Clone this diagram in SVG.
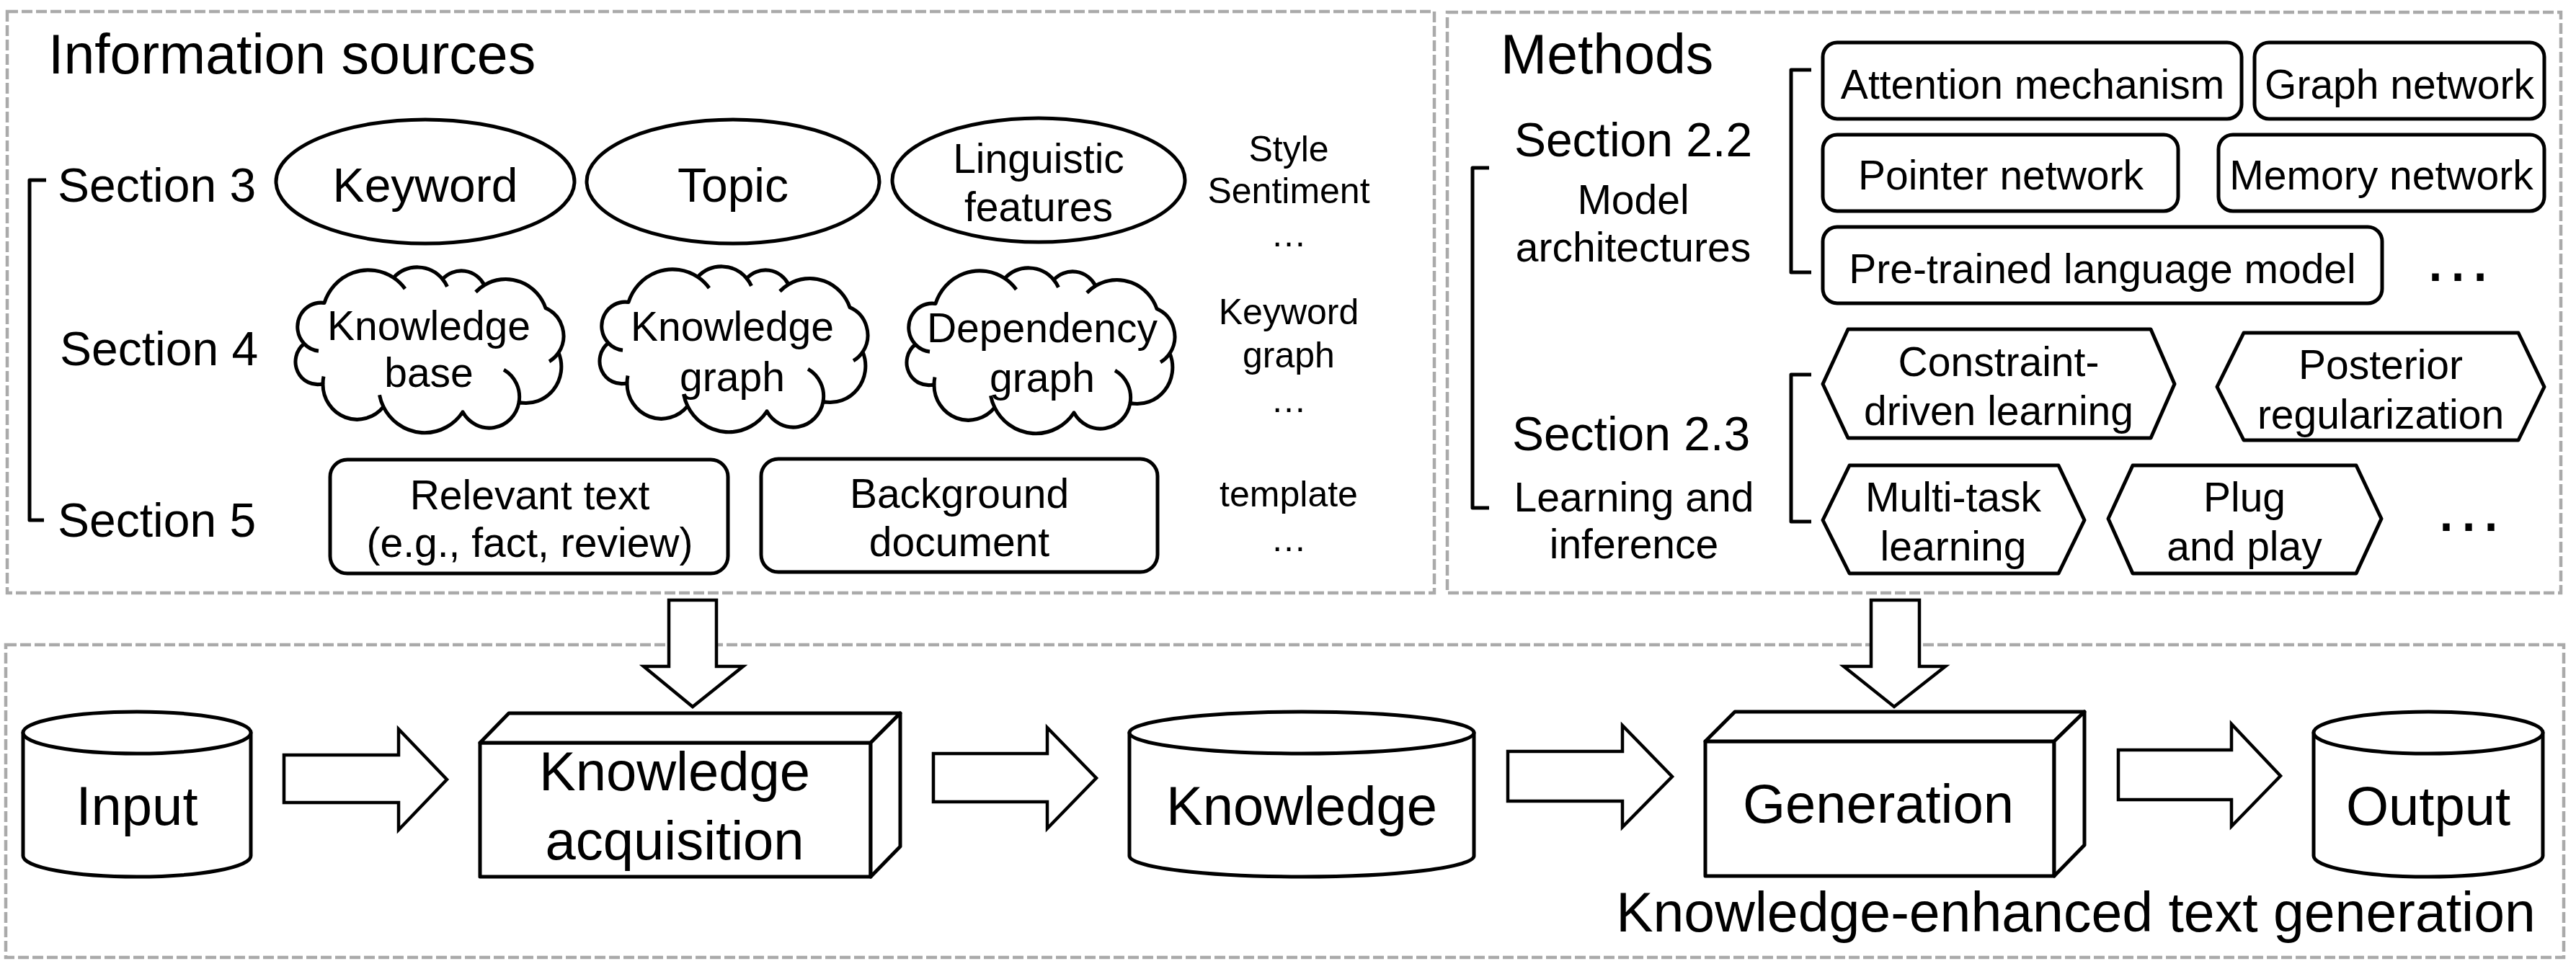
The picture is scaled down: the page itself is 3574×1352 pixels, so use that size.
<svg xmlns="http://www.w3.org/2000/svg" xmlns:xlink="http://www.w3.org/1999/xlink" width="3574" height="1352" viewBox="0 0 3574 1352">
<style>
.t{font-family:"Liberation Sans",Arial,Helvetica,sans-serif;fill:#000;text-anchor:middle}
.ts{text-anchor:start}
.f77{font-size:77px}.f76{font-size:76px}.f66{font-size:66px}.f57{font-size:57px}.f50{font-size:50px}.f98{font-size:98px}
.sh{fill:#fff;stroke:#000;stroke-width:5;stroke-linejoin:round}
.ln{fill:none;stroke:#000;stroke-width:5}
.br{fill:none;stroke:#000;stroke-width:5;stroke-linejoin:round}
.dash{fill:none;stroke:#aaaaaa;stroke-width:4.5;stroke-dasharray:15 5}
.ar{fill:#fff;stroke:#000;stroke-width:4.5;stroke-linejoin:miter}
</style>
<defs>
<g id="cloud">
<path class="sh" d="M38,157 A30.6,30.6 0 0 1 12,103 A32.6,32.6 0 0 1 40,48 A64.3,64.3 0 0 1 136,14 A46,46 0 0 1 204,16 A36,36 0 0 1 262,24 A58.9,58.9 0 0 1 347,55 A40.5,40.5 0 0 1 365,115 A49,49 0 0 1 310,182 A42,42 0 0 1 232,195 A64,64 0 0 1 122,188 A47.5,47.5 0 0 1 38,157 Z"/>
<path class="ln" d="M32,112.7 A32.6,32.6 0 0 1 12,103 M136,14 A64.3,64.3 0 0 1 152,29 M204,16 A46,46 0 0 1 210.5,26 M250,33.4 A58.9,58.9 0 0 1 262,24 M365,115 A40.5,40.5 0 0 1 352,127 M289,138 A42,42 0 0 1 310,182 M122,188 A64,64 0 0 1 116.5,172 M38,157 A47.5,47.5 0 0 1 39,147"/>
</g>
</defs>
<rect width="3574" height="1352" fill="#fff"/>

<g id="frames">
<rect class="dash" x="10" y="16" width="1980" height="807"/>
<rect class="dash" x="2008" y="17" width="1545" height="806"/>
<rect class="dash" x="8" y="895" width="3549" height="434"/>
</g>

<g id="titles">
<text class="t ts f77" x="67" y="102">Information sources</text>
<text class="t ts f77" x="2082" y="102">Methods</text>
<text class="t f77" x="2880" y="1293">Knowledge-enhanced text generation</text>
</g>

<g id="brackets">
<path class="br" d="M64,250 H41 V722 H61"/>
<path class="br" d="M2066,233 H2043 V705 H2066"/>
<path class="br" d="M2513,97 H2485 V378 H2513"/>
<path class="br" d="M2513,520 H2485 V724 H2513"/>
</g>

<g id="section-labels">
<text class="t ts f66" x="80" y="280">Section 3</text>
<text class="t ts f66" x="83" y="507">Section 4</text>
<text class="t ts f66" x="80" y="745">Section 5</text>
<text class="t f66" x="2266" y="217">Section 2.2</text>
<text class="t f57" x="2266" y="297">Model</text>
<text class="t f57" x="2266" y="363">architectures</text>
<text class="t f66" x="2263" y="625">Section 2.3</text>
<text class="t f57" x="2267" y="710">Learning and</text>
<text class="t f57" x="2267" y="775">inference</text>
</g>

<g id="node-keyword">
<ellipse class="sh" cx="590" cy="252" rx="207" ry="86"/>
<text class="t f66" x="590" y="280">Keyword</text>
</g>
<g id="node-topic">
<ellipse class="sh" cx="1017" cy="252" rx="203" ry="86"/>
<text class="t f66" x="1017" y="280">Topic</text>
</g>
<g id="node-linguistic">
<ellipse class="sh" cx="1441" cy="250" rx="203" ry="86"/>
<text class="t f57" x="1441" y="240">Linguistic</text>
<text class="t f57" x="1441" y="307">features</text>
</g>
<g id="note-style">
<text class="t f50" x="1788" y="224">Style</text>
<text class="t f50" x="1788" y="282">Sentiment</text>
<text class="t f50" x="1788" y="342">…</text>
</g>

<g id="node-knowledge-base">
<use xlink:href="#cloud" href="#cloud" transform="translate(410,371) scale(1,1.03)"/>
<text class="t f57" x="595" y="472">Knowledge</text>
<text class="t f57" x="595" y="537">base</text>
</g>
<g id="node-knowledge-graph">
<use xlink:href="#cloud" href="#cloud" transform="translate(832,370) scale(1,1.03)"/>
<text class="t f57" x="1016" y="473">Knowledge</text>
<text class="t f57" x="1016" y="543">graph</text>
</g>
<g id="node-dependency-graph">
<use xlink:href="#cloud" href="#cloud" transform="translate(1258,372) scale(1,1.03)"/>
<text class="t f57" x="1446" y="475">Dependency</text>
<text class="t f57" x="1446" y="544">graph</text>
</g>
<g id="note-keyword-graph">
<text class="t f50" x="1788" y="450">Keyword</text>
<text class="t f50" x="1788" y="510">graph</text>
<text class="t f50" x="1788" y="572">…</text>
</g>

<g id="node-relevant-text">
<rect class="sh" x="458" y="638" width="552" height="158" rx="24"/>
<text class="t f57" x="735" y="707">Relevant text</text>
<text class="t f57" x="735" y="773">(e.g., fact, review)</text>
</g>
<g id="node-background-document">
<rect class="sh" x="1056" y="637" width="550" height="157" rx="24"/>
<text class="t f57" x="1331" y="705">Background</text>
<text class="t f57" x="1331" y="772">document</text>
</g>
<g id="note-template">
<text class="t f50" x="1788" y="703">template</text>
<text class="t f50" x="1788" y="765">…</text>
</g>

<g id="node-attention">
<rect class="sh" x="2529" y="59" width="581" height="106" rx="20"/>
<text class="t f57" x="2820" y="137">Attention mechanism</text>
</g>
<g id="node-graph-network">
<rect class="sh" x="3128" y="59" width="402" height="106" rx="20"/>
<text class="t f57" x="3329" y="137">Graph network</text>
</g>
<g id="node-pointer-network">
<rect class="sh" x="2529" y="187" width="493" height="106" rx="20"/>
<text class="t f57" x="2776" y="263">Pointer network</text>
</g>
<g id="node-memory-network">
<rect class="sh" x="3078" y="187" width="452" height="106" rx="20"/>
<text class="t f57" x="3304" y="263">Memory network</text>
</g>
<g id="node-plm">
<rect class="sh" x="2529" y="315" width="776" height="106" rx="20"/>
<text class="t f57" x="2917" y="393">Pre-trained language model</text>
</g>
<g id="note-arch-more">
<text class="t f98" x="3410" y="390">…</text>
</g>

<g id="node-constraint">
<polygon class="sh" points="2529,533 2564,457 2984,457 3017,533 2984,608 2564,608"/>
<text class="t f57" x="2773" y="522">Constraint-</text>
<text class="t f57" x="2773" y="590">driven learning</text>
</g>
<g id="node-posterior">
<polygon class="sh" points="3076,537 3113,462 3494,462 3530,537 3494,611 3113,611"/>
<text class="t f57" x="3303" y="526">Posterior</text>
<text class="t f57" x="3303" y="595">regularization</text>
</g>
<g id="node-multitask">
<polygon class="sh" points="2529,722 2566,646 2856,646 2892,722 2856,796 2566,796"/>
<text class="t f57" x="2710" y="710">Multi-task</text>
<text class="t f57" x="2710" y="778">learning</text>
</g>
<g id="node-plug">
<polygon class="sh" points="2925,720 2959,646 3269,646 3304,720 3269,796 2959,796"/>
<text class="t f57" x="3114" y="710">Plug</text>
<text class="t f57" x="3114" y="778">and play</text>
</g>
<g id="note-learn-more">
<text class="t f98" x="3425" y="737">…</text>
</g>

<g id="node-input">
<path class="sh" d="M32,1017 V1188 A158,29 0 0 0 348,1188 V1017 Z"/>
<ellipse class="sh" cx="190" cy="1017" rx="158" ry="29"/>
<text class="t f76" x="190" y="1145">Input</text>
</g>
<g id="node-knowledge-acquisition">
<rect class="sh" x="666" y="1031" width="542" height="186"/>
<polygon class="sh" points="666,1031 706,990 1249,990 1208,1031"/>
<polygon class="sh" points="1208,1031 1249,990 1249,1175 1208,1217"/>
<text class="t f76" x="936" y="1097">Knowledge</text>
<text class="t f76" x="936" y="1193">acquisition</text>
</g>
<g id="node-knowledge">
<path class="sh" d="M1567,1017 V1188 A239,29 0 0 0 2045,1188 V1017 Z"/>
<ellipse class="sh" cx="1806" cy="1017" rx="239" ry="29"/>
<text class="t f76" x="1806" y="1145">Knowledge</text>
</g>
<g id="node-generation">
<rect class="sh" x="2366" y="1029" width="484" height="187"/>
<polygon class="sh" points="2366,1029 2407,988 2892,988 2850,1029"/>
<polygon class="sh" points="2850,1029 2892,988 2892,1173 2850,1216"/>
<text class="t f76" x="2606" y="1142">Generation</text>
</g>
<g id="node-output">
<path class="sh" d="M3210,1017 V1188 A159,29 0 0 0 3528,1188 V1017 Z"/>
<ellipse class="sh" cx="3369" cy="1017" rx="159" ry="29"/>
<text class="t f76" x="3369" y="1145">Output</text>
</g>

<g id="connectors">
<polygon class="ar" points="928,833 994,833 994,925 1031,925 961,981 893,925 928,925"/>
<polygon class="ar" points="2596,833 2663,833 2663,925 2699,925 2628,981 2558,925 2596,925"/>
<polygon class="ar" points="394,1048 553,1048 553,1012 620,1082 553,1152 553,1114 394,1114"/>
<polygon class="ar" points="1295,1046 1453,1046 1453,1010 1521,1080 1453,1150 1453,1113 1295,1113"/>
<polygon class="ar" points="2092,1043 2251,1043 2251,1007 2320,1078 2251,1148 2251,1112 2092,1112"/>
<polygon class="ar" points="2939,1041 3096,1041 3096,1005 3164,1077 3096,1147 3096,1110 2939,1110"/>
</g>
</svg>
